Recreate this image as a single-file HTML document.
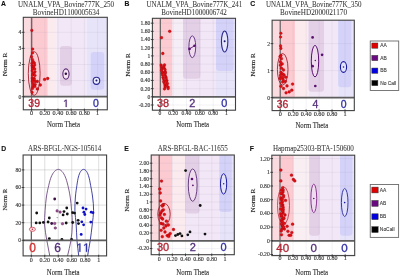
<!DOCTYPE html><html><head><meta charset="utf-8"><style>html,body{margin:0;padding:0;background:#fff;width:400px;height:277px;overflow:hidden}svg{display:block;filter:blur(0.3px)}</style></head><body>
<svg width="400" height="277" viewBox="0 0 400 277">
<rect width="400" height="277" fill="#fff"/>
<clipPath id="cA"><rect x="23.3" y="17.3" width="84.0" height="92.5"/></clipPath>
<g clip-path="url(#cA)">
<rect x="23.30" y="17.30" width="84.00" height="92.50" fill="#ffffff" />
<rect x="23.30" y="17.30" width="8.70" height="79.40" fill="#fadbe0" />
<rect x="32.00" y="17.30" width="15.80" height="79.40" fill="#fccbd1" />
<rect x="47.80" y="17.30" width="8.60" height="79.40" fill="#fbebef" />
<rect x="56.40" y="17.30" width="30.10" height="79.40" fill="#f2e7f6" />
<rect x="86.50" y="17.30" width="20.80" height="79.40" fill="#e7e4f9" />
<rect x="60.00" y="46.00" width="11.90" height="39.80" rx="3" fill="#e3d0e7"/>
<rect x="90.70" y="51.90" width="13.50" height="37.90" rx="3" fill="#d4d2f8"/>
<line x1="44.80" y1="17.30" x2="44.80" y2="109.80" stroke="rgba(150,140,170,0.16)" stroke-width="0.7" />
<line x1="58.00" y1="17.30" x2="58.00" y2="109.80" stroke="rgba(150,140,170,0.16)" stroke-width="0.7" />
<line x1="71.20" y1="17.30" x2="71.20" y2="109.80" stroke="rgba(150,140,170,0.16)" stroke-width="0.7" />
<line x1="84.40" y1="17.30" x2="84.40" y2="109.80" stroke="rgba(150,140,170,0.16)" stroke-width="0.7" />
<line x1="97.60" y1="17.30" x2="97.60" y2="109.80" stroke="rgba(150,140,170,0.16)" stroke-width="0.7" />
<line x1="23.30" y1="96.70" x2="107.30" y2="96.70" stroke="rgba(150,140,170,0.16)" stroke-width="0.7" />
<line x1="23.30" y1="80.60" x2="107.30" y2="80.60" stroke="rgba(150,140,170,0.16)" stroke-width="0.7" />
<line x1="23.30" y1="64.50" x2="107.30" y2="64.50" stroke="rgba(150,140,170,0.16)" stroke-width="0.7" />
<line x1="23.30" y1="48.40" x2="107.30" y2="48.40" stroke="rgba(150,140,170,0.16)" stroke-width="0.7" />
<line x1="23.30" y1="32.30" x2="107.30" y2="32.30" stroke="rgba(150,140,170,0.16)" stroke-width="0.7" />
<line x1="31.60" y1="17.30" x2="31.60" y2="96.70" stroke="#7a6060" stroke-width="1.5" />
<line x1="31.60" y1="96.70" x2="31.60" y2="109.80" stroke="rgba(70,60,60,0.75)" stroke-width="1" />
<ellipse cx="34.20" cy="73.50" rx="5.9" ry="21.8" fill="none" stroke="#a02030" stroke-width="0.9" transform="rotate(0 34.20 73.50)"/>
<ellipse cx="65.95" cy="74.10" rx="3.1" ry="5.2" fill="#f4e4f4" stroke="#5a2a70" stroke-width="1.1" transform="rotate(0 65.95 74.10)"/>
<ellipse cx="96.45" cy="80.80" rx="3.3" ry="3.6" fill="#ececfc" stroke="#2a2a90" stroke-width="1.1" transform="rotate(0 96.45 80.80)"/>
<circle cx="31.80" cy="30.40" r="1.3" fill="#e01010" stroke="#a00010" stroke-width="0.35"/>
<circle cx="32.70" cy="49.10" r="1.3" fill="#e01010" stroke="#a00010" stroke-width="0.35"/>
<circle cx="32.50" cy="52.90" r="1.3" fill="#e01010" stroke="#a00010" stroke-width="0.35"/>
<circle cx="31.60" cy="56.70" r="1.3" fill="#e01010" stroke="#a00010" stroke-width="0.35"/>
<circle cx="44.60" cy="79.40" r="1.4" fill="#e01010" stroke="#a00010" stroke-width="0.35"/>
<circle cx="47.70" cy="78.50" r="1.4" fill="#e01010" stroke="#a00010" stroke-width="0.35"/>
<circle cx="37.30" cy="81.50" r="1.4" fill="#e01010" stroke="#a00010" stroke-width="0.35"/>
<circle cx="40.30" cy="85.00" r="1.4" fill="#e01010" stroke="#a00010" stroke-width="0.35"/>
<circle cx="37.30" cy="88.90" r="1.4" fill="#e01010" stroke="#a00010" stroke-width="0.35"/>
<circle cx="32.50" cy="88.50" r="1.3" fill="#e01010" stroke="#a00010" stroke-width="0.35"/>
<circle cx="32.10" cy="92.40" r="1.3" fill="#e01010" stroke="#a00010" stroke-width="0.35"/>
<circle cx="32.40" cy="59.50" r="1.3" fill="#e01010" stroke="#a00010" stroke-width="0.35"/>
<circle cx="33.20" cy="61.50" r="1.3" fill="#e01010" stroke="#a00010" stroke-width="0.35"/>
<circle cx="31.95" cy="63.23" r="1.3" fill="#e01010" stroke="#a00010" stroke-width="0.35"/>
<circle cx="34.41" cy="62.97" r="1.3" fill="#e01010" stroke="#a00010" stroke-width="0.35"/>
<circle cx="32.05" cy="65.45" r="1.3" fill="#e01010" stroke="#a00010" stroke-width="0.35"/>
<circle cx="34.66" cy="65.11" r="1.3" fill="#e01010" stroke="#a00010" stroke-width="0.35"/>
<circle cx="32.44" cy="66.88" r="1.3" fill="#e01010" stroke="#a00010" stroke-width="0.35"/>
<circle cx="33.74" cy="67.05" r="1.3" fill="#e01010" stroke="#a00010" stroke-width="0.35"/>
<circle cx="32.58" cy="68.78" r="1.3" fill="#e01010" stroke="#a00010" stroke-width="0.35"/>
<circle cx="34.73" cy="68.98" r="1.3" fill="#e01010" stroke="#a00010" stroke-width="0.35"/>
<circle cx="32.20" cy="70.85" r="1.3" fill="#e01010" stroke="#a00010" stroke-width="0.35"/>
<circle cx="35.02" cy="71.69" r="1.3" fill="#e01010" stroke="#a00010" stroke-width="0.35"/>
<circle cx="33.01" cy="73.64" r="1.3" fill="#e01010" stroke="#a00010" stroke-width="0.35"/>
<circle cx="33.90" cy="73.29" r="1.3" fill="#e01010" stroke="#a00010" stroke-width="0.35"/>
<circle cx="32.60" cy="75.14" r="1.3" fill="#e01010" stroke="#a00010" stroke-width="0.35"/>
<circle cx="35.04" cy="75.44" r="1.3" fill="#e01010" stroke="#a00010" stroke-width="0.35"/>
<circle cx="32.23" cy="78.08" r="1.3" fill="#e01010" stroke="#a00010" stroke-width="0.35"/>
<circle cx="34.09" cy="78.21" r="1.3" fill="#e01010" stroke="#a00010" stroke-width="0.35"/>
<circle cx="32.63" cy="79.86" r="1.3" fill="#e01010" stroke="#a00010" stroke-width="0.35"/>
<circle cx="34.40" cy="79.78" r="1.3" fill="#e01010" stroke="#a00010" stroke-width="0.35"/>
<circle cx="32.35" cy="81.34" r="1.3" fill="#e01010" stroke="#a00010" stroke-width="0.35"/>
<circle cx="35.07" cy="81.58" r="1.3" fill="#e01010" stroke="#a00010" stroke-width="0.35"/>
<circle cx="33.11" cy="83.65" r="1.3" fill="#e01010" stroke="#a00010" stroke-width="0.35"/>
<circle cx="35.23" cy="84.47" r="1.3" fill="#e01010" stroke="#a00010" stroke-width="0.35"/>
<circle cx="33.12" cy="86.42" r="1.3" fill="#e01010" stroke="#a00010" stroke-width="0.35"/>
<circle cx="34.81" cy="86.38" r="1.3" fill="#e01010" stroke="#a00010" stroke-width="0.35"/>
<circle cx="65.85" cy="73.80" r="1.25" fill="#301040"/>
<circle cx="96.45" cy="80.50" r="1.0" fill="#1a1a70"/>
<line x1="23.30" y1="96.70" x2="107.30" y2="96.70" stroke="#5e5e5e" stroke-width="1.7" />
</g>
<rect x="23.30" y="17.30" width="84.00" height="92.50" fill="none" stroke="#404040" stroke-width="1.1"/>
<line x1="21.80" y1="96.70" x2="24.50" y2="96.70" stroke="#333" stroke-width="0.9" />
<text x="21.20" y="98.60" font-size="5.6" fill="#3a3a3a" text-anchor="end" style="font-family:'Liberation Serif',serif" font-weight="normal" stroke="#3a3a3a" stroke-width="0.15" >0</text>
<line x1="21.80" y1="80.60" x2="24.50" y2="80.60" stroke="#333" stroke-width="0.9" />
<text x="21.20" y="82.50" font-size="5.6" fill="#3a3a3a" text-anchor="end" style="font-family:'Liberation Serif',serif" font-weight="normal" stroke="#3a3a3a" stroke-width="0.15" >1</text>
<line x1="21.80" y1="64.50" x2="24.50" y2="64.50" stroke="#333" stroke-width="0.9" />
<text x="21.20" y="66.40" font-size="5.6" fill="#3a3a3a" text-anchor="end" style="font-family:'Liberation Serif',serif" font-weight="normal" stroke="#3a3a3a" stroke-width="0.15" >2</text>
<line x1="21.80" y1="48.40" x2="24.50" y2="48.40" stroke="#333" stroke-width="0.9" />
<text x="21.20" y="50.30" font-size="5.6" fill="#3a3a3a" text-anchor="end" style="font-family:'Liberation Serif',serif" font-weight="normal" stroke="#3a3a3a" stroke-width="0.15" >3</text>
<line x1="21.80" y1="32.30" x2="24.50" y2="32.30" stroke="#333" stroke-width="0.9" />
<text x="21.20" y="34.20" font-size="5.6" fill="#3a3a3a" text-anchor="end" style="font-family:'Liberation Serif',serif" font-weight="normal" stroke="#3a3a3a" stroke-width="0.15" >4</text>
<line x1="31.60" y1="108.60" x2="31.60" y2="111.30" stroke="#333" stroke-width="0.9" />
<text x="31.60" y="114.80" font-size="6.2" fill="#3a3a3a" text-anchor="middle" style="font-family:'Liberation Serif',serif" font-weight="normal" stroke="#3a3a3a" stroke-width="0.15" >0</text>
<line x1="44.80" y1="108.60" x2="44.80" y2="111.30" stroke="#333" stroke-width="0.9" />
<text x="44.80" y="114.80" font-size="6.2" fill="#3a3a3a" text-anchor="middle" style="font-family:'Liberation Serif',serif" font-weight="normal" stroke="#3a3a3a" stroke-width="0.15" >0.20</text>
<line x1="58.00" y1="108.60" x2="58.00" y2="111.30" stroke="#333" stroke-width="0.9" />
<text x="58.00" y="114.80" font-size="6.2" fill="#3a3a3a" text-anchor="middle" style="font-family:'Liberation Serif',serif" font-weight="normal" stroke="#3a3a3a" stroke-width="0.15" >0.40</text>
<line x1="71.20" y1="108.60" x2="71.20" y2="111.30" stroke="#333" stroke-width="0.9" />
<text x="71.20" y="114.80" font-size="6.2" fill="#3a3a3a" text-anchor="middle" style="font-family:'Liberation Serif',serif" font-weight="normal" stroke="#3a3a3a" stroke-width="0.15" >0.60</text>
<line x1="84.40" y1="108.60" x2="84.40" y2="111.30" stroke="#333" stroke-width="0.9" />
<text x="84.40" y="114.80" font-size="6.2" fill="#3a3a3a" text-anchor="middle" style="font-family:'Liberation Serif',serif" font-weight="normal" stroke="#3a3a3a" stroke-width="0.15" >0.80</text>
<line x1="97.60" y1="108.60" x2="97.60" y2="111.30" stroke="#333" stroke-width="0.9" />
<text x="97.60" y="114.80" font-size="6.2" fill="#3a3a3a" text-anchor="middle" style="font-family:'Liberation Serif',serif" font-weight="normal" stroke="#3a3a3a" stroke-width="0.15" >1</text>
<text x="28.36" y="107.00" font-size="10.5" fill="#b02434" text-anchor="start" style="font-family:'Liberation Sans',sans-serif" font-weight="normal" stroke="#b02434" stroke-width="0.3" >3</text>
<text x="34.20" y="107.00" font-size="10.5" fill="#b02434" text-anchor="start" style="font-family:'Liberation Sans',sans-serif" font-weight="normal" stroke="#b02434" stroke-width="0.3" >9</text>
<path d="M65.72,107.00 L66.65,107.00 L66.65,99.78 L65.80,99.78 L64.09,100.95 L64.09,101.82 L65.72,100.66Z" fill="#55307a" stroke="#55307a" stroke-width="0.3" stroke-linejoin="round"/>
<text x="93.08" y="107.00" font-size="10.5" fill="#3030a6" text-anchor="start" style="font-family:'Liberation Sans',sans-serif" font-weight="normal" stroke="#3030a6" stroke-width="0.3" >0</text>
<text x="66.00" y="6.80" font-size="7.178" fill="#363636" text-anchor="middle" style="font-family:'Liberation Serif',serif" font-weight="normal" stroke="#363636" stroke-width="0.05" textLength="96.00" lengthAdjust="spacingAndGlyphs" >UNALM_VPA_Bovine777K_250</text>
<text x="66.10" y="15.00" font-size="7.178" fill="#363636" text-anchor="middle" style="font-family:'Liberation Serif',serif" font-weight="normal" stroke="#363636" stroke-width="0.05" textLength="66.50" lengthAdjust="spacingAndGlyphs" >BovineHD1100005634</text>
<text x="1.00" y="5.75" font-size="6.8" fill="#111" text-anchor="start" style="font-family:'Liberation Sans',sans-serif" font-weight="bold" stroke="#111" stroke-width="0.1" >A</text>
<text x="63.50" y="126.80" font-size="8.3" fill="#2a2a2a" text-anchor="middle" style="font-family:'Liberation Serif',serif" font-weight="normal" stroke="#2a2a2a" stroke-width="0.12" textLength="32.80" lengthAdjust="spacingAndGlyphs" >Norm Theta</text>
<text x="0" y="0" font-size="7.1" fill="#2a2a2a" stroke="#2a2a2a" stroke-width="0.15" text-anchor="middle" style="font-family:'Liberation Serif',serif" transform="translate(6.50,64.50) rotate(-90)" textLength="23.6" lengthAdjust="spacingAndGlyphs">Norm R</text>
<clipPath id="cB"><rect x="152.4" y="18.3" width="83.1" height="91.9"/></clipPath>
<g clip-path="url(#cB)">
<rect x="152.40" y="18.30" width="83.10" height="91.90" fill="#ffffff" />
<rect x="152.00" y="18.30" width="8.30" height="78.50" fill="#fadbe0" />
<rect x="160.30" y="18.30" width="12.20" height="78.50" fill="#fccbd1" />
<rect x="172.50" y="18.30" width="10.50" height="78.50" fill="#f6eef6" />
<rect x="183.00" y="18.30" width="33.00" height="78.50" fill="#f2e7f6" />
<rect x="216.00" y="18.30" width="19.50" height="78.50" fill="#e7e4f9" />
<rect x="183.00" y="10.00" width="17.40" height="68.70" rx="3" fill="#e3d0e7"/>
<rect x="216.00" y="10.00" width="17.60" height="61.00" rx="3" fill="#d4d2f8"/>
<line x1="173.14" y1="18.30" x2="173.14" y2="110.20" stroke="rgba(150,140,170,0.16)" stroke-width="0.7" />
<line x1="186.48" y1="18.30" x2="186.48" y2="110.20" stroke="rgba(150,140,170,0.16)" stroke-width="0.7" />
<line x1="199.82" y1="18.30" x2="199.82" y2="110.20" stroke="rgba(150,140,170,0.16)" stroke-width="0.7" />
<line x1="213.16" y1="18.30" x2="213.16" y2="110.20" stroke="rgba(150,140,170,0.16)" stroke-width="0.7" />
<line x1="226.50" y1="18.30" x2="226.50" y2="110.20" stroke="rgba(150,140,170,0.16)" stroke-width="0.7" />
<line x1="152.40" y1="104.98" x2="235.50" y2="104.98" stroke="rgba(150,140,170,0.16)" stroke-width="0.7" />
<line x1="152.40" y1="96.80" x2="235.50" y2="96.80" stroke="rgba(150,140,170,0.16)" stroke-width="0.7" />
<line x1="152.40" y1="88.62" x2="235.50" y2="88.62" stroke="rgba(150,140,170,0.16)" stroke-width="0.7" />
<line x1="152.40" y1="80.44" x2="235.50" y2="80.44" stroke="rgba(150,140,170,0.16)" stroke-width="0.7" />
<line x1="152.40" y1="72.26" x2="235.50" y2="72.26" stroke="rgba(150,140,170,0.16)" stroke-width="0.7" />
<line x1="152.40" y1="64.08" x2="235.50" y2="64.08" stroke="rgba(150,140,170,0.16)" stroke-width="0.7" />
<line x1="152.40" y1="55.90" x2="235.50" y2="55.90" stroke="rgba(150,140,170,0.16)" stroke-width="0.7" />
<line x1="152.40" y1="47.72" x2="235.50" y2="47.72" stroke="rgba(150,140,170,0.16)" stroke-width="0.7" />
<line x1="152.40" y1="39.54" x2="235.50" y2="39.54" stroke="rgba(150,140,170,0.16)" stroke-width="0.7" />
<line x1="152.40" y1="31.36" x2="235.50" y2="31.36" stroke="rgba(150,140,170,0.16)" stroke-width="0.7" />
<line x1="152.40" y1="23.18" x2="235.50" y2="23.18" stroke="rgba(150,140,170,0.16)" stroke-width="0.7" />
<line x1="160.30" y1="18.30" x2="160.30" y2="96.80" stroke="#555" stroke-width="1.1" />
<line x1="160.30" y1="96.80" x2="160.30" y2="110.20" stroke="rgba(70,60,60,0.75)" stroke-width="1" />
<ellipse cx="192.30" cy="46.75" rx="3.4" ry="10.9" fill="#efdcef" stroke="#6a3a88" stroke-width="1.0" transform="rotate(0 192.30 46.75)"/>
<ellipse cx="224.65" cy="41.45" rx="3.2" ry="10.5" fill="#e4e4fa" stroke="#2a2a90" stroke-width="1.1" transform="rotate(0 224.65 41.45)"/>
<line x1="189.5" y1="48.9" x2="194.5" y2="45.8" stroke="#5a1070" stroke-width="0.9"/>
<circle cx="169.70" cy="31.30" r="1.4" fill="#e01010" stroke="#a00010" stroke-width="0.35"/>
<circle cx="161.50" cy="37.70" r="1.4" fill="#e01010" stroke="#a00010" stroke-width="0.35"/>
<circle cx="162.80" cy="53.50" r="1.4" fill="#e01010" stroke="#a00010" stroke-width="0.35"/>
<circle cx="189.50" cy="48.90" r="1.3" fill="#5a1070"/>
<circle cx="194.50" cy="45.80" r="1.3" fill="#5a1070"/>
<circle cx="224.60" cy="41.20" r="1.0" fill="#1a1a70"/>
<circle cx="161.14" cy="65.06" r="1.35" fill="#e01010" stroke="#a00010" stroke-width="0.35"/>
<circle cx="164.51" cy="64.97" r="1.35" fill="#e01010" stroke="#a00010" stroke-width="0.35"/>
<circle cx="161.48" cy="66.79" r="1.35" fill="#e01010" stroke="#a00010" stroke-width="0.35"/>
<circle cx="163.89" cy="66.71" r="1.35" fill="#e01010" stroke="#a00010" stroke-width="0.35"/>
<circle cx="161.90" cy="68.69" r="1.35" fill="#e01010" stroke="#a00010" stroke-width="0.35"/>
<circle cx="164.06" cy="68.20" r="1.35" fill="#e01010" stroke="#a00010" stroke-width="0.35"/>
<circle cx="161.52" cy="70.41" r="1.35" fill="#e01010" stroke="#a00010" stroke-width="0.35"/>
<circle cx="165.05" cy="69.64" r="1.35" fill="#e01010" stroke="#a00010" stroke-width="0.35"/>
<circle cx="162.87" cy="72.26" r="1.35" fill="#e01010" stroke="#a00010" stroke-width="0.35"/>
<circle cx="165.27" cy="71.92" r="1.35" fill="#e01010" stroke="#a00010" stroke-width="0.35"/>
<circle cx="162.15" cy="73.02" r="1.35" fill="#e01010" stroke="#a00010" stroke-width="0.35"/>
<circle cx="165.39" cy="73.06" r="1.35" fill="#e01010" stroke="#a00010" stroke-width="0.35"/>
<circle cx="162.46" cy="74.94" r="1.35" fill="#e01010" stroke="#a00010" stroke-width="0.35"/>
<circle cx="165.07" cy="75.16" r="1.35" fill="#e01010" stroke="#a00010" stroke-width="0.35"/>
<circle cx="163.03" cy="77.24" r="1.35" fill="#e01010" stroke="#a00010" stroke-width="0.35"/>
<circle cx="165.93" cy="77.04" r="1.35" fill="#e01010" stroke="#a00010" stroke-width="0.35"/>
<circle cx="163.38" cy="78.76" r="1.35" fill="#e01010" stroke="#a00010" stroke-width="0.35"/>
<circle cx="166.12" cy="78.38" r="1.35" fill="#e01010" stroke="#a00010" stroke-width="0.35"/>
<circle cx="164.25" cy="80.80" r="1.35" fill="#e01010" stroke="#a00010" stroke-width="0.35"/>
<circle cx="166.86" cy="80.51" r="1.35" fill="#e01010" stroke="#a00010" stroke-width="0.35"/>
<circle cx="163.70" cy="81.73" r="1.35" fill="#e01010" stroke="#a00010" stroke-width="0.35"/>
<circle cx="166.47" cy="81.57" r="1.35" fill="#e01010" stroke="#a00010" stroke-width="0.35"/>
<circle cx="164.51" cy="83.60" r="1.35" fill="#e01010" stroke="#a00010" stroke-width="0.35"/>
<circle cx="167.41" cy="83.59" r="1.35" fill="#e01010" stroke="#a00010" stroke-width="0.35"/>
<circle cx="165.01" cy="85.75" r="1.35" fill="#e01010" stroke="#a00010" stroke-width="0.35"/>
<circle cx="166.66" cy="85.11" r="1.35" fill="#e01010" stroke="#a00010" stroke-width="0.35"/>
<circle cx="165.23" cy="87.07" r="1.35" fill="#e01010" stroke="#a00010" stroke-width="0.35"/>
<circle cx="168.11" cy="87.00" r="1.35" fill="#e01010" stroke="#a00010" stroke-width="0.35"/>
<circle cx="164.50" cy="88.93" r="1.35" fill="#e01010" stroke="#a00010" stroke-width="0.35"/>
<circle cx="168.14" cy="88.57" r="1.35" fill="#e01010" stroke="#a00010" stroke-width="0.35"/>
<line x1="152.40" y1="96.80" x2="235.50" y2="96.80" stroke="#5e5e5e" stroke-width="1.7" />
</g>
<rect x="152.40" y="18.30" width="83.10" height="91.90" fill="none" stroke="#404040" stroke-width="1.1"/>
<line x1="150.90" y1="104.98" x2="153.60" y2="104.98" stroke="#333" stroke-width="0.9" />
<text x="150.30" y="106.88" font-size="5.6" fill="#3a3a3a" text-anchor="end" style="font-family:'Liberation Serif',serif" font-weight="normal" stroke="#3a3a3a" stroke-width="0.15" >-0.20</text>
<line x1="150.90" y1="96.80" x2="153.60" y2="96.80" stroke="#333" stroke-width="0.9" />
<text x="150.30" y="98.70" font-size="5.6" fill="#3a3a3a" text-anchor="end" style="font-family:'Liberation Serif',serif" font-weight="normal" stroke="#3a3a3a" stroke-width="0.15" >0</text>
<line x1="150.90" y1="88.62" x2="153.60" y2="88.62" stroke="#333" stroke-width="0.9" />
<text x="150.30" y="90.52" font-size="5.6" fill="#3a3a3a" text-anchor="end" style="font-family:'Liberation Serif',serif" font-weight="normal" stroke="#3a3a3a" stroke-width="0.15" >0.20</text>
<line x1="150.90" y1="80.44" x2="153.60" y2="80.44" stroke="#333" stroke-width="0.9" />
<text x="150.30" y="82.34" font-size="5.6" fill="#3a3a3a" text-anchor="end" style="font-family:'Liberation Serif',serif" font-weight="normal" stroke="#3a3a3a" stroke-width="0.15" >0.40</text>
<line x1="150.90" y1="72.26" x2="153.60" y2="72.26" stroke="#333" stroke-width="0.9" />
<text x="150.30" y="74.16" font-size="5.6" fill="#3a3a3a" text-anchor="end" style="font-family:'Liberation Serif',serif" font-weight="normal" stroke="#3a3a3a" stroke-width="0.15" >0.60</text>
<line x1="150.90" y1="64.08" x2="153.60" y2="64.08" stroke="#333" stroke-width="0.9" />
<text x="150.30" y="65.98" font-size="5.6" fill="#3a3a3a" text-anchor="end" style="font-family:'Liberation Serif',serif" font-weight="normal" stroke="#3a3a3a" stroke-width="0.15" >0.80</text>
<line x1="150.90" y1="55.90" x2="153.60" y2="55.90" stroke="#333" stroke-width="0.9" />
<text x="150.30" y="57.80" font-size="5.6" fill="#3a3a3a" text-anchor="end" style="font-family:'Liberation Serif',serif" font-weight="normal" stroke="#3a3a3a" stroke-width="0.15" >1</text>
<line x1="150.90" y1="47.72" x2="153.60" y2="47.72" stroke="#333" stroke-width="0.9" />
<text x="150.30" y="49.62" font-size="5.6" fill="#3a3a3a" text-anchor="end" style="font-family:'Liberation Serif',serif" font-weight="normal" stroke="#3a3a3a" stroke-width="0.15" >1.20</text>
<line x1="150.90" y1="39.54" x2="153.60" y2="39.54" stroke="#333" stroke-width="0.9" />
<text x="150.30" y="41.44" font-size="5.6" fill="#3a3a3a" text-anchor="end" style="font-family:'Liberation Serif',serif" font-weight="normal" stroke="#3a3a3a" stroke-width="0.15" >1.40</text>
<line x1="150.90" y1="31.36" x2="153.60" y2="31.36" stroke="#333" stroke-width="0.9" />
<text x="150.30" y="33.26" font-size="5.6" fill="#3a3a3a" text-anchor="end" style="font-family:'Liberation Serif',serif" font-weight="normal" stroke="#3a3a3a" stroke-width="0.15" >1.60</text>
<line x1="150.90" y1="23.18" x2="153.60" y2="23.18" stroke="#333" stroke-width="0.9" />
<text x="150.30" y="25.08" font-size="5.6" fill="#3a3a3a" text-anchor="end" style="font-family:'Liberation Serif',serif" font-weight="normal" stroke="#3a3a3a" stroke-width="0.15" >1.80</text>
<line x1="159.80" y1="109.00" x2="159.80" y2="111.70" stroke="#333" stroke-width="0.9" />
<text x="159.80" y="115.00" font-size="5.6" fill="#3a3a3a" text-anchor="middle" style="font-family:'Liberation Serif',serif" font-weight="normal" stroke="#3a3a3a" stroke-width="0.15" >0</text>
<line x1="173.14" y1="109.00" x2="173.14" y2="111.70" stroke="#333" stroke-width="0.9" />
<text x="173.14" y="115.00" font-size="5.6" fill="#3a3a3a" text-anchor="middle" style="font-family:'Liberation Serif',serif" font-weight="normal" stroke="#3a3a3a" stroke-width="0.15" >0.20</text>
<line x1="186.48" y1="109.00" x2="186.48" y2="111.70" stroke="#333" stroke-width="0.9" />
<text x="186.48" y="115.00" font-size="5.6" fill="#3a3a3a" text-anchor="middle" style="font-family:'Liberation Serif',serif" font-weight="normal" stroke="#3a3a3a" stroke-width="0.15" >0.40</text>
<line x1="199.82" y1="109.00" x2="199.82" y2="111.70" stroke="#333" stroke-width="0.9" />
<text x="199.82" y="115.00" font-size="5.6" fill="#3a3a3a" text-anchor="middle" style="font-family:'Liberation Serif',serif" font-weight="normal" stroke="#3a3a3a" stroke-width="0.15" >0.60</text>
<line x1="213.16" y1="109.00" x2="213.16" y2="111.70" stroke="#333" stroke-width="0.9" />
<text x="213.16" y="115.00" font-size="5.6" fill="#3a3a3a" text-anchor="middle" style="font-family:'Liberation Serif',serif" font-weight="normal" stroke="#3a3a3a" stroke-width="0.15" >0.80</text>
<line x1="226.50" y1="109.00" x2="226.50" y2="111.70" stroke="#333" stroke-width="0.9" />
<text x="226.50" y="115.00" font-size="5.6" fill="#3a3a3a" text-anchor="middle" style="font-family:'Liberation Serif',serif" font-weight="normal" stroke="#3a3a3a" stroke-width="0.15" >1</text>
<text x="156.94" y="106.60" font-size="10.9" fill="#b02434" text-anchor="start" style="font-family:'Liberation Sans',sans-serif" font-weight="normal" stroke="#b02434" stroke-width="0.3" >3</text>
<text x="163.00" y="106.60" font-size="10.9" fill="#b02434" text-anchor="start" style="font-family:'Liberation Sans',sans-serif" font-weight="normal" stroke="#b02434" stroke-width="0.3" >8</text>
<text x="189.17" y="106.60" font-size="10.9" fill="#55307a" text-anchor="start" style="font-family:'Liberation Sans',sans-serif" font-weight="normal" stroke="#55307a" stroke-width="0.3" >2</text>
<text x="221.37" y="106.60" font-size="10.9" fill="#3030a6" text-anchor="start" style="font-family:'Liberation Sans',sans-serif" font-weight="normal" stroke="#3030a6" stroke-width="0.3" >0</text>
<text x="194.30" y="6.60" font-size="7.178" fill="#363636" text-anchor="middle" style="font-family:'Liberation Serif',serif" font-weight="normal" stroke="#363636" stroke-width="0.05" textLength="95.80" lengthAdjust="spacingAndGlyphs" >UNALM_VPA_Bovine777K_241</text>
<text x="194.00" y="14.80" font-size="7.178" fill="#363636" text-anchor="middle" style="font-family:'Liberation Serif',serif" font-weight="normal" stroke="#363636" stroke-width="0.05" textLength="65.50" lengthAdjust="spacingAndGlyphs" >BovineHD1000006742</text>
<text x="124.40" y="5.80" font-size="6.8" fill="#111" text-anchor="start" style="font-family:'Liberation Sans',sans-serif" font-weight="bold" stroke="#111" stroke-width="0.1" >B</text>
<text x="192.70" y="127.20" font-size="8.3" fill="#2a2a2a" text-anchor="middle" style="font-family:'Liberation Serif',serif" font-weight="normal" stroke="#2a2a2a" stroke-width="0.12" textLength="32.80" lengthAdjust="spacingAndGlyphs" >Norm Theta</text>
<text x="0" y="0" font-size="7.1" fill="#2a2a2a" stroke="#2a2a2a" stroke-width="0.15" text-anchor="middle" style="font-family:'Liberation Serif',serif" transform="translate(129.60,65.00) rotate(-90)" textLength="23.6" lengthAdjust="spacingAndGlyphs">Norm R</text>
<clipPath id="cC"><rect x="272.1" y="20.2" width="82.19999999999999" height="90.39999999999999"/></clipPath>
<g clip-path="url(#cC)">
<rect x="272.10" y="20.20" width="82.20" height="90.40" fill="#ffffff" />
<rect x="272.10" y="20.20" width="8.20" height="77.40" fill="#fadbe0" />
<rect x="280.30" y="20.20" width="15.00" height="77.40" fill="#fccbd1" />
<rect x="295.30" y="20.20" width="13.20" height="77.40" fill="#fbebef" />
<rect x="308.50" y="20.20" width="29.70" height="77.40" fill="#f2e7f6" />
<rect x="338.20" y="20.20" width="16.10" height="77.40" fill="#e7e4f9" />
<rect x="308.50" y="10.00" width="15.50" height="81.70" rx="3" fill="#e3d0e7"/>
<rect x="338.20" y="10.00" width="13.20" height="77.30" rx="3" fill="#d4d2f8"/>
<line x1="293.16" y1="20.20" x2="293.16" y2="110.60" stroke="rgba(150,140,170,0.16)" stroke-width="0.7" />
<line x1="306.12" y1="20.20" x2="306.12" y2="110.60" stroke="rgba(150,140,170,0.16)" stroke-width="0.7" />
<line x1="319.08" y1="20.20" x2="319.08" y2="110.60" stroke="rgba(150,140,170,0.16)" stroke-width="0.7" />
<line x1="332.04" y1="20.20" x2="332.04" y2="110.60" stroke="rgba(150,140,170,0.16)" stroke-width="0.7" />
<line x1="345.00" y1="20.20" x2="345.00" y2="110.60" stroke="rgba(150,140,170,0.16)" stroke-width="0.7" />
<line x1="272.10" y1="97.60" x2="354.30" y2="97.60" stroke="rgba(150,140,170,0.16)" stroke-width="0.7" />
<line x1="272.10" y1="70.60" x2="354.30" y2="70.60" stroke="rgba(150,140,170,0.16)" stroke-width="0.7" />
<line x1="272.10" y1="43.60" x2="354.30" y2="43.60" stroke="rgba(150,140,170,0.16)" stroke-width="0.7" />
<line x1="280.20" y1="20.20" x2="280.20" y2="97.60" stroke="#555" stroke-width="1.1" />
<line x1="280.20" y1="97.60" x2="280.20" y2="110.60" stroke="rgba(70,60,60,0.75)" stroke-width="1" />
<ellipse cx="282.70" cy="69.30" rx="5.3" ry="15.8" fill="none" stroke="#a02030" stroke-width="0.9" transform="rotate(0 282.70 69.30)"/>
<ellipse cx="315.00" cy="61.15" rx="3.7" ry="15.8" fill="#efdcef" stroke="#5a1070" stroke-width="1.0" transform="rotate(0 315.00 61.15)"/>
<ellipse cx="343.50" cy="67.00" rx="3.1" ry="5.4" fill="#e2e2fa" stroke="#1a1aa0" stroke-width="1.1" transform="rotate(0 343.50 67.00)"/>
<circle cx="280.90" cy="33.20" r="1.3" fill="#e01010" stroke="#a00010" stroke-width="0.35"/>
<circle cx="280.60" cy="37.00" r="1.3" fill="#e01010" stroke="#a00010" stroke-width="0.35"/>
<circle cx="280.60" cy="45.90" r="1.3" fill="#e01010" stroke="#a00010" stroke-width="0.35"/>
<circle cx="280.90" cy="48.40" r="1.3" fill="#e01010" stroke="#a00010" stroke-width="0.35"/>
<circle cx="281.00" cy="55.40" r="1.3" fill="#e01010" stroke="#a00010" stroke-width="0.35"/>
<circle cx="312.60" cy="37.40" r="1.35" fill="#5a1070"/>
<circle cx="322.10" cy="54.80" r="1.35" fill="#5a1070"/>
<circle cx="312.60" cy="66.20" r="1.35" fill="#5a1070"/>
<circle cx="315.30" cy="86.00" r="1.35" fill="#5a1070"/>
<circle cx="315.30" cy="60.40" r="0.75" fill="#5a1070"/>
<circle cx="343.50" cy="67.00" r="0.8" fill="#1a1aa0"/>
<circle cx="280.10" cy="56.50" r="1.4" fill="#e01010" stroke="#a00010" stroke-width="0.35"/>
<circle cx="281.40" cy="58.70" r="1.4" fill="#e01010" stroke="#a00010" stroke-width="0.35"/>
<circle cx="280.50" cy="62.00" r="1.4" fill="#e01010" stroke="#a00010" stroke-width="0.35"/>
<circle cx="282.20" cy="63.90" r="1.4" fill="#e01010" stroke="#a00010" stroke-width="0.35"/>
<circle cx="280.50" cy="65.20" r="1.4" fill="#e01010" stroke="#a00010" stroke-width="0.35"/>
<circle cx="281.40" cy="68.20" r="1.4" fill="#e01010" stroke="#a00010" stroke-width="0.35"/>
<circle cx="283.50" cy="70.00" r="1.4" fill="#e01010" stroke="#a00010" stroke-width="0.35"/>
<circle cx="281.00" cy="72.50" r="1.4" fill="#e01010" stroke="#a00010" stroke-width="0.35"/>
<circle cx="282.50" cy="74.00" r="1.4" fill="#e01010" stroke="#a00010" stroke-width="0.35"/>
<circle cx="280.50" cy="75.50" r="1.4" fill="#e01010" stroke="#a00010" stroke-width="0.35"/>
<circle cx="284.00" cy="75.00" r="1.4" fill="#e01010" stroke="#a00010" stroke-width="0.35"/>
<circle cx="282.50" cy="77.50" r="1.4" fill="#e01010" stroke="#a00010" stroke-width="0.35"/>
<circle cx="280.20" cy="78.50" r="1.4" fill="#e01010" stroke="#a00010" stroke-width="0.35"/>
<circle cx="285.70" cy="77.20" r="1.4" fill="#e01010" stroke="#a00010" stroke-width="0.35"/>
<circle cx="285.30" cy="81.50" r="1.4" fill="#e01010" stroke="#a00010" stroke-width="0.35"/>
<circle cx="282.70" cy="82.00" r="1.4" fill="#e01010" stroke="#a00010" stroke-width="0.35"/>
<circle cx="287.00" cy="85.90" r="1.4" fill="#e01010" stroke="#a00010" stroke-width="0.35"/>
<circle cx="292.60" cy="84.10" r="1.4" fill="#e01010" stroke="#a00010" stroke-width="0.35"/>
<circle cx="283.50" cy="88.50" r="1.4" fill="#e01010" stroke="#a00010" stroke-width="0.35"/>
<circle cx="291.80" cy="90.20" r="1.4" fill="#e01010" stroke="#a00010" stroke-width="0.35"/>
<circle cx="289.20" cy="91.90" r="1.4" fill="#e01010" stroke="#a00010" stroke-width="0.35"/>
<circle cx="286.10" cy="92.80" r="1.4" fill="#e01010" stroke="#a00010" stroke-width="0.35"/>
<circle cx="280.90" cy="86.30" r="1.4" fill="#e01010" stroke="#a00010" stroke-width="0.35"/>
<circle cx="283.00" cy="79.50" r="1.4" fill="#e01010" stroke="#a00010" stroke-width="0.35"/>
<line x1="272.10" y1="97.60" x2="354.30" y2="97.60" stroke="#5e5e5e" stroke-width="1.7" />
</g>
<rect x="272.10" y="20.20" width="82.20" height="90.40" fill="none" stroke="#404040" stroke-width="1.1"/>
<line x1="270.60" y1="97.60" x2="273.30" y2="97.60" stroke="#333" stroke-width="0.9" />
<text x="270.00" y="99.50" font-size="5.6" fill="#3a3a3a" text-anchor="end" style="font-family:'Liberation Serif',serif" font-weight="normal" stroke="#3a3a3a" stroke-width="0.15" >0</text>
<line x1="270.60" y1="70.60" x2="273.30" y2="70.60" stroke="#333" stroke-width="0.9" />
<text x="270.00" y="72.50" font-size="5.6" fill="#3a3a3a" text-anchor="end" style="font-family:'Liberation Serif',serif" font-weight="normal" stroke="#3a3a3a" stroke-width="0.15" >1</text>
<line x1="270.60" y1="43.60" x2="273.30" y2="43.60" stroke="#333" stroke-width="0.9" />
<text x="270.00" y="45.50" font-size="5.6" fill="#3a3a3a" text-anchor="end" style="font-family:'Liberation Serif',serif" font-weight="normal" stroke="#3a3a3a" stroke-width="0.15" >2</text>
<line x1="280.20" y1="109.40" x2="280.20" y2="112.10" stroke="#333" stroke-width="0.9" />
<text x="280.20" y="115.80" font-size="6.2" fill="#3a3a3a" text-anchor="middle" style="font-family:'Liberation Serif',serif" font-weight="normal" stroke="#3a3a3a" stroke-width="0.15" >0</text>
<line x1="293.16" y1="109.40" x2="293.16" y2="112.10" stroke="#333" stroke-width="0.9" />
<text x="293.16" y="115.80" font-size="6.2" fill="#3a3a3a" text-anchor="middle" style="font-family:'Liberation Serif',serif" font-weight="normal" stroke="#3a3a3a" stroke-width="0.15" >0.20</text>
<line x1="306.12" y1="109.40" x2="306.12" y2="112.10" stroke="#333" stroke-width="0.9" />
<text x="306.12" y="115.80" font-size="6.2" fill="#3a3a3a" text-anchor="middle" style="font-family:'Liberation Serif',serif" font-weight="normal" stroke="#3a3a3a" stroke-width="0.15" >0.40</text>
<line x1="319.08" y1="109.40" x2="319.08" y2="112.10" stroke="#333" stroke-width="0.9" />
<text x="319.08" y="115.80" font-size="6.2" fill="#3a3a3a" text-anchor="middle" style="font-family:'Liberation Serif',serif" font-weight="normal" stroke="#3a3a3a" stroke-width="0.15" >0.60</text>
<line x1="332.04" y1="109.40" x2="332.04" y2="112.10" stroke="#333" stroke-width="0.9" />
<text x="332.04" y="115.80" font-size="6.2" fill="#3a3a3a" text-anchor="middle" style="font-family:'Liberation Serif',serif" font-weight="normal" stroke="#3a3a3a" stroke-width="0.15" >0.80</text>
<line x1="345.00" y1="109.40" x2="345.00" y2="112.10" stroke="#333" stroke-width="0.9" />
<text x="345.00" y="115.80" font-size="6.2" fill="#3a3a3a" text-anchor="middle" style="font-family:'Liberation Serif',serif" font-weight="normal" stroke="#3a3a3a" stroke-width="0.15" >1</text>
<text x="276.76" y="107.60" font-size="10.5" fill="#b02434" text-anchor="start" style="font-family:'Liberation Sans',sans-serif" font-weight="normal" stroke="#b02434" stroke-width="0.3" >3</text>
<text x="282.60" y="107.60" font-size="10.5" fill="#b02434" text-anchor="start" style="font-family:'Liberation Sans',sans-serif" font-weight="normal" stroke="#b02434" stroke-width="0.3" >6</text>
<text x="312.58" y="107.60" font-size="10.5" fill="#55307a" text-anchor="start" style="font-family:'Liberation Sans',sans-serif" font-weight="normal" stroke="#55307a" stroke-width="0.3" >4</text>
<text x="340.78" y="107.60" font-size="10.5" fill="#3030a6" text-anchor="start" style="font-family:'Liberation Sans',sans-serif" font-weight="normal" stroke="#3030a6" stroke-width="0.3" >0</text>
<text x="313.80" y="6.80" font-size="7.178" fill="#363636" text-anchor="middle" style="font-family:'Liberation Serif',serif" font-weight="normal" stroke="#363636" stroke-width="0.05" textLength="95.50" lengthAdjust="spacingAndGlyphs" >UNALM_VPA_Bovine777K_350</text>
<text x="313.50" y="15.00" font-size="7.178" fill="#363636" text-anchor="middle" style="font-family:'Liberation Serif',serif" font-weight="normal" stroke="#363636" stroke-width="0.05" textLength="67.00" lengthAdjust="spacingAndGlyphs" >BovineHD2000021170</text>
<text x="250.20" y="6.00" font-size="6.8" fill="#111" text-anchor="start" style="font-family:'Liberation Sans',sans-serif" font-weight="bold" stroke="#111" stroke-width="0.1" >C</text>
<text x="311.80" y="127.60" font-size="8.3" fill="#2a2a2a" text-anchor="middle" style="font-family:'Liberation Serif',serif" font-weight="normal" stroke="#2a2a2a" stroke-width="0.12" textLength="32.80" lengthAdjust="spacingAndGlyphs" >Norm Theta</text>
<text x="0" y="0" font-size="7.1" fill="#2a2a2a" stroke="#2a2a2a" stroke-width="0.15" text-anchor="middle" style="font-family:'Liberation Serif',serif" transform="translate(255.00,65.00) rotate(-90)" textLength="23.6" lengthAdjust="spacingAndGlyphs">Norm R</text>
<clipPath id="cD"><rect x="23.1" y="155" width="83.5" height="100.9"/></clipPath>
<g clip-path="url(#cD)">
<rect x="23.10" y="155.00" width="83.50" height="100.90" fill="#ffffff" />
<line x1="44.78" y1="155.00" x2="44.78" y2="255.90" stroke="rgba(170,170,170,0.55)" stroke-width="0.7" />
<line x1="58.26" y1="155.00" x2="58.26" y2="255.90" stroke="rgba(170,170,170,0.55)" stroke-width="0.7" />
<line x1="71.74" y1="155.00" x2="71.74" y2="255.90" stroke="rgba(170,170,170,0.55)" stroke-width="0.7" />
<line x1="85.22" y1="155.00" x2="85.22" y2="255.90" stroke="rgba(170,170,170,0.55)" stroke-width="0.7" />
<line x1="98.70" y1="155.00" x2="98.70" y2="255.90" stroke="rgba(170,170,170,0.55)" stroke-width="0.7" />
<line x1="23.10" y1="240.30" x2="106.60" y2="240.30" stroke="rgba(170,170,170,0.55)" stroke-width="0.7" />
<line x1="23.10" y1="222.70" x2="106.60" y2="222.70" stroke="rgba(170,170,170,0.55)" stroke-width="0.7" />
<line x1="23.10" y1="205.10" x2="106.60" y2="205.10" stroke="rgba(170,170,170,0.55)" stroke-width="0.7" />
<line x1="23.10" y1="187.50" x2="106.60" y2="187.50" stroke="rgba(170,170,170,0.55)" stroke-width="0.7" />
<line x1="23.10" y1="169.90" x2="106.60" y2="169.90" stroke="rgba(170,170,170,0.55)" stroke-width="0.7" />
<line x1="31.30" y1="155.00" x2="31.30" y2="240.30" stroke="#444" stroke-width="1.1" />
<line x1="31.30" y1="240.30" x2="31.30" y2="255.90" stroke="rgba(80,80,80,0.5)" stroke-width="1" />
<path d="M52.50,272.00 C51.15,267.25 50.83,261.70 49.90,256.50 C48.97,251.30 47.78,246.05 46.90,240.80 C46.02,235.55 44.90,230.05 44.60,225.00 C44.30,219.95 44.80,215.17 45.10,210.50 C45.40,205.83 45.79,201.20 46.40,197.00 C47.01,192.80 47.96,188.63 48.75,185.30 C49.54,181.97 50.21,179.30 51.15,177.00 C52.09,174.70 53.22,172.78 54.40,171.50 C55.58,170.22 56.97,169.35 58.25,169.35 C59.53,169.35 60.92,170.22 62.10,171.50 C63.28,172.78 64.39,174.70 65.35,177.00 C66.31,179.30 67.04,181.97 67.85,185.30 C68.66,188.63 69.58,192.80 70.20,197.00 C70.83,201.20 71.25,205.83 71.60,210.50 C71.95,215.17 72.42,219.95 72.30,225.00 C72.18,230.05 71.72,235.55 70.90,240.80 C70.08,246.05 68.47,251.30 67.40,256.50 C66.33,261.70 66.07,267.25 64.50,272.00 C62.93,276.75 60.00,285.00 58.00,285.00 C56.00,285.00 53.85,276.75 52.50,272.00Z" fill="none" stroke="#765488" stroke-width="0.95"/>
<path d="M80.00,272.00 C79.30,267.25 79.30,261.70 78.80,256.50 C78.30,251.30 77.43,246.05 77.00,240.80 C76.57,235.55 76.55,230.05 76.20,225.00 C75.85,219.95 75.03,215.17 74.90,210.50 C74.77,205.83 75.07,201.20 75.40,197.00 C75.73,192.80 76.40,188.63 76.90,185.30 C77.40,181.97 77.78,179.30 78.40,177.00 C79.02,174.70 79.73,172.78 80.60,171.50 C81.47,170.22 82.60,169.35 83.60,169.35 C84.60,169.35 85.72,170.22 86.60,171.50 C87.48,172.78 88.23,174.70 88.90,177.00 C89.57,179.30 89.98,181.97 90.60,185.30 C91.22,188.63 92.10,192.80 92.60,197.00 C93.10,201.20 93.67,205.83 93.60,210.50 C93.53,215.17 92.77,219.95 92.20,225.00 C91.63,230.05 90.98,235.55 90.20,240.80 C89.42,246.05 88.20,251.30 87.50,256.50 C86.80,261.70 86.75,267.25 86.00,272.00 C85.25,276.75 84.00,285.00 83.00,285.00 C82.00,285.00 80.70,276.75 80.00,272.00Z" fill="none" stroke="#3a3aa0" stroke-width="0.95"/>
<ellipse cx="32.4" cy="229.3" rx="3" ry="2.05" fill="#fbe4e6" stroke="#d85a66" stroke-width="0.95"/>
<circle cx="32.4" cy="229.3" r="0.75" fill="#c02040"/>
<circle cx="36.70" cy="213.00" r="1.4" fill="#111"/>
<circle cx="36.20" cy="222.90" r="1.4" fill="#111"/>
<circle cx="39.80" cy="222.90" r="1.4" fill="#111"/>
<circle cx="43.40" cy="222.40" r="1.4" fill="#111"/>
<circle cx="48.10" cy="222.00" r="1.4" fill="#111"/>
<circle cx="49.30" cy="218.00" r="1.4" fill="#111"/>
<circle cx="66.75" cy="208.00" r="1.4" fill="#111"/>
<circle cx="64.00" cy="211.60" r="1.4" fill="#111"/>
<circle cx="63.10" cy="214.90" r="1.4" fill="#111"/>
<circle cx="67.30" cy="214.00" r="1.4" fill="#111"/>
<circle cx="66.20" cy="223.00" r="1.4" fill="#111"/>
<circle cx="72.70" cy="212.70" r="1.4" fill="#111"/>
<circle cx="74.50" cy="213.10" r="1.4" fill="#111"/>
<circle cx="77.20" cy="203.10" r="1.4" fill="#111"/>
<circle cx="72.70" cy="222.50" r="1.4" fill="#111"/>
<circle cx="78.10" cy="220.30" r="1.4" fill="#111"/>
<circle cx="78.50" cy="223.60" r="1.4" fill="#111"/>
<circle cx="49.30" cy="238.60" r="1.4" fill="#111"/>
<circle cx="61.90" cy="239.30" r="1.4" fill="#111"/>
<circle cx="71.60" cy="239.30" r="1.4" fill="#111"/>
<circle cx="51.70" cy="223.50" r="1.4" fill="#3a1040"/>
<circle cx="54.70" cy="199.00" r="1.4" fill="#3a1040"/>
<circle cx="54.70" cy="223.50" r="1.3" fill="#a05098" stroke="#402040" stroke-width="0.35"/>
<circle cx="55.30" cy="228.00" r="1.3" fill="#a05098" stroke="#402040" stroke-width="0.35"/>
<circle cx="57.10" cy="210.90" r="1.3" fill="#a05098" stroke="#402040" stroke-width="0.35"/>
<circle cx="60.10" cy="212.10" r="1.3" fill="#a05098" stroke="#402040" stroke-width="0.35"/>
<circle cx="62.50" cy="223.80" r="1.3" fill="#a05098" stroke="#402040" stroke-width="0.35"/>
<circle cx="83.00" cy="208.00" r="1.4" fill="#1010c8"/>
<circle cx="86.10" cy="209.10" r="1.4" fill="#1010c8"/>
<circle cx="83.90" cy="212.20" r="1.4" fill="#1010c8"/>
<circle cx="84.80" cy="214.50" r="1.4" fill="#1010c8"/>
<circle cx="91.20" cy="212.20" r="1.4" fill="#1010c8"/>
<circle cx="93.00" cy="212.70" r="1.4" fill="#1010c8"/>
<circle cx="81.80" cy="221.80" r="1.4" fill="#1010c8"/>
<circle cx="83.60" cy="224.80" r="1.4" fill="#1010c8"/>
<circle cx="90.80" cy="222.10" r="1.4" fill="#1010c8"/>
<circle cx="81.20" cy="234.40" r="1.4" fill="#1010c8"/>
<circle cx="57.20" cy="217.60" r="0.7" fill="#6a9a9a"/>
<line x1="23.10" y1="240.30" x2="106.60" y2="240.30" stroke="#5e5e5e" stroke-width="1.7" />
</g>
<rect x="23.10" y="155.00" width="83.50" height="100.90" fill="none" stroke="#404040" stroke-width="1.1"/>
<line x1="21.60" y1="240.30" x2="24.30" y2="240.30" stroke="#333" stroke-width="0.9" />
<text x="21.00" y="242.20" font-size="5.6" fill="#3a3a3a" text-anchor="end" style="font-family:'Liberation Serif',serif" font-weight="normal" stroke="#3a3a3a" stroke-width="0.15" >0</text>
<line x1="21.60" y1="222.70" x2="24.30" y2="222.70" stroke="#333" stroke-width="0.9" />
<text x="21.00" y="224.60" font-size="5.6" fill="#3a3a3a" text-anchor="end" style="font-family:'Liberation Serif',serif" font-weight="normal" stroke="#3a3a3a" stroke-width="0.15" >20</text>
<line x1="21.60" y1="205.10" x2="24.30" y2="205.10" stroke="#333" stroke-width="0.9" />
<text x="21.00" y="207.00" font-size="5.6" fill="#3a3a3a" text-anchor="end" style="font-family:'Liberation Serif',serif" font-weight="normal" stroke="#3a3a3a" stroke-width="0.15" >40</text>
<line x1="21.60" y1="187.50" x2="24.30" y2="187.50" stroke="#333" stroke-width="0.9" />
<text x="21.00" y="189.40" font-size="5.6" fill="#3a3a3a" text-anchor="end" style="font-family:'Liberation Serif',serif" font-weight="normal" stroke="#3a3a3a" stroke-width="0.15" >60</text>
<line x1="21.60" y1="169.90" x2="24.30" y2="169.90" stroke="#333" stroke-width="0.9" />
<text x="21.00" y="171.80" font-size="5.6" fill="#3a3a3a" text-anchor="end" style="font-family:'Liberation Serif',serif" font-weight="normal" stroke="#3a3a3a" stroke-width="0.15" >80</text>
<line x1="31.30" y1="254.70" x2="31.30" y2="257.40" stroke="#333" stroke-width="0.9" />
<text x="31.30" y="261.50" font-size="6.0" fill="#3a3a3a" text-anchor="middle" style="font-family:'Liberation Serif',serif" font-weight="normal" stroke="#3a3a3a" stroke-width="0.15" >0</text>
<line x1="44.78" y1="254.70" x2="44.78" y2="257.40" stroke="#333" stroke-width="0.9" />
<text x="44.78" y="261.50" font-size="6.0" fill="#3a3a3a" text-anchor="middle" style="font-family:'Liberation Serif',serif" font-weight="normal" stroke="#3a3a3a" stroke-width="0.15" >0.20</text>
<line x1="58.26" y1="254.70" x2="58.26" y2="257.40" stroke="#333" stroke-width="0.9" />
<text x="58.26" y="261.50" font-size="6.0" fill="#3a3a3a" text-anchor="middle" style="font-family:'Liberation Serif',serif" font-weight="normal" stroke="#3a3a3a" stroke-width="0.15" >0.40</text>
<line x1="71.74" y1="254.70" x2="71.74" y2="257.40" stroke="#333" stroke-width="0.9" />
<text x="71.74" y="261.50" font-size="6.0" fill="#3a3a3a" text-anchor="middle" style="font-family:'Liberation Serif',serif" font-weight="normal" stroke="#3a3a3a" stroke-width="0.15" >0.60</text>
<line x1="85.22" y1="254.70" x2="85.22" y2="257.40" stroke="#333" stroke-width="0.9" />
<text x="85.22" y="261.50" font-size="6.0" fill="#3a3a3a" text-anchor="middle" style="font-family:'Liberation Serif',serif" font-weight="normal" stroke="#3a3a3a" stroke-width="0.15" >0.80</text>
<line x1="98.70" y1="254.70" x2="98.70" y2="257.40" stroke="#333" stroke-width="0.9" />
<text x="98.70" y="261.50" font-size="6.0" fill="#3a3a3a" text-anchor="middle" style="font-family:'Liberation Serif',serif" font-weight="normal" stroke="#3a3a3a" stroke-width="0.15" >1</text>
<text x="29.16" y="251.80" font-size="12" fill="#d03030" text-anchor="start" style="font-family:'Liberation Sans',sans-serif" font-weight="normal" stroke="#d03030" stroke-width="0.3" >0</text>
<text x="54.36" y="251.80" font-size="12" fill="#55307a" text-anchor="start" style="font-family:'Liberation Sans',sans-serif" font-weight="normal" stroke="#55307a" stroke-width="0.3" >6</text>
<path d="M79.34,251.80 L80.40,251.80 L80.40,243.54 L79.43,243.54 L77.48,244.89 L77.48,245.88 L79.34,244.55Z" fill="#3030a6" stroke="#3030a6" stroke-width="0.3" stroke-linejoin="round"/>
<path d="M86.02,251.80 L87.08,251.80 L87.08,243.54 L86.11,243.54 L84.15,244.89 L84.15,245.88 L86.02,244.55Z" fill="#3030a6" stroke="#3030a6" stroke-width="0.3" stroke-linejoin="round"/>
<text x="64.60" y="150.80" font-size="7.2749999999999995" fill="#363636" text-anchor="middle" style="font-family:'Liberation Serif',serif" font-weight="normal" stroke="#363636" stroke-width="0.05" textLength="73.40" lengthAdjust="spacingAndGlyphs" >ARS-BFGL-NGS-105614</text>
<text x="1.20" y="150.80" font-size="6.8" fill="#111" text-anchor="start" style="font-family:'Liberation Sans',sans-serif" font-weight="bold" stroke="#111" stroke-width="0.1" >D</text>
<text x="63.20" y="274.80" font-size="8.3" fill="#2a2a2a" text-anchor="middle" style="font-family:'Liberation Serif',serif" font-weight="normal" stroke="#2a2a2a" stroke-width="0.12" textLength="32.80" lengthAdjust="spacingAndGlyphs" >Norm Theta</text>
<text x="0" y="0" font-size="7.1" fill="#2a2a2a" stroke="#2a2a2a" stroke-width="0.15" text-anchor="middle" style="font-family:'Liberation Serif',serif" transform="translate(6.50,199.70) rotate(-90)" textLength="21.8" lengthAdjust="spacingAndGlyphs">Norm R</text>
<clipPath id="cE"><rect x="151.2" y="155" width="83.10000000000002" height="99.69999999999999"/></clipPath>
<g clip-path="url(#cE)">
<rect x="151.20" y="155.00" width="83.10" height="99.70" fill="#ffffff" />
<rect x="151.20" y="155.00" width="8.10" height="85.80" fill="#fadbe0" />
<rect x="159.30" y="155.00" width="12.70" height="85.80" fill="#fccbd1" />
<rect x="172.00" y="155.00" width="13.20" height="85.80" fill="#fbebef" />
<rect x="185.20" y="155.00" width="34.10" height="85.80" fill="#f2e7f6" />
<rect x="219.30" y="155.00" width="15.00" height="85.80" fill="#e7e4f9" />
<rect x="185.20" y="10.00" width="14.30" height="203.60" rx="3" fill="#e3d0e7"/>
<rect x="219.30" y="10.00" width="12.50" height="202.10" rx="3" fill="#d4d2f8"/>
<line x1="172.34" y1="155.00" x2="172.34" y2="254.70" stroke="rgba(150,140,170,0.16)" stroke-width="0.7" />
<line x1="185.48" y1="155.00" x2="185.48" y2="254.70" stroke="rgba(150,140,170,0.16)" stroke-width="0.7" />
<line x1="198.62" y1="155.00" x2="198.62" y2="254.70" stroke="rgba(150,140,170,0.16)" stroke-width="0.7" />
<line x1="211.76" y1="155.00" x2="211.76" y2="254.70" stroke="rgba(150,140,170,0.16)" stroke-width="0.7" />
<line x1="224.90" y1="155.00" x2="224.90" y2="254.70" stroke="rgba(150,140,170,0.16)" stroke-width="0.7" />
<line x1="151.20" y1="248.56" x2="234.30" y2="248.56" stroke="rgba(150,140,170,0.16)" stroke-width="0.7" />
<line x1="151.20" y1="240.80" x2="234.30" y2="240.80" stroke="rgba(150,140,170,0.16)" stroke-width="0.7" />
<line x1="151.20" y1="233.04" x2="234.30" y2="233.04" stroke="rgba(150,140,170,0.16)" stroke-width="0.7" />
<line x1="151.20" y1="225.28" x2="234.30" y2="225.28" stroke="rgba(150,140,170,0.16)" stroke-width="0.7" />
<line x1="151.20" y1="217.52" x2="234.30" y2="217.52" stroke="rgba(150,140,170,0.16)" stroke-width="0.7" />
<line x1="151.20" y1="209.76" x2="234.30" y2="209.76" stroke="rgba(150,140,170,0.16)" stroke-width="0.7" />
<line x1="151.20" y1="202.00" x2="234.30" y2="202.00" stroke="rgba(150,140,170,0.16)" stroke-width="0.7" />
<line x1="151.20" y1="194.24" x2="234.30" y2="194.24" stroke="rgba(150,140,170,0.16)" stroke-width="0.7" />
<line x1="151.20" y1="186.48" x2="234.30" y2="186.48" stroke="rgba(150,140,170,0.16)" stroke-width="0.7" />
<line x1="151.20" y1="178.72" x2="234.30" y2="178.72" stroke="rgba(150,140,170,0.16)" stroke-width="0.7" />
<line x1="151.20" y1="170.96" x2="234.30" y2="170.96" stroke="rgba(150,140,170,0.16)" stroke-width="0.7" />
<line x1="151.20" y1="163.20" x2="234.30" y2="163.20" stroke="rgba(150,140,170,0.16)" stroke-width="0.7" />
<line x1="159.20" y1="155.00" x2="159.20" y2="240.80" stroke="#6a5050" stroke-width="1.2" />
<line x1="159.20" y1="240.80" x2="159.20" y2="254.70" stroke="rgba(70,60,60,0.75)" stroke-width="1" />
<ellipse cx="164.00" cy="214.20" rx="6.2" ry="10.9" fill="none" stroke="#a02030" stroke-width="0.9" transform="rotate(0 164.00 214.20)"/>
<ellipse cx="192.70" cy="185.10" rx="4.4" ry="16.2" fill="#efdcef" stroke="#684080" stroke-width="1.0" transform="rotate(0 192.70 185.10)"/>
<ellipse cx="223.60" cy="183.90" rx="3.1" ry="10.2" fill="#e2e2fa" stroke="#1a1aa0" stroke-width="1.0" transform="rotate(0 223.60 183.90)"/>
<circle cx="185.60" cy="170.60" r="1.4" fill="#111"/>
<circle cx="200.20" cy="205.50" r="1.4" fill="#111"/>
<circle cx="192.00" cy="179.00" r="1.35" fill="#5a1070"/>
<circle cx="192.90" cy="185.30" r="0.9" fill="#5a1070"/>
<circle cx="223.70" cy="183.80" r="0.7" fill="#1a1aa0"/>
<circle cx="175.50" cy="235.60" r="1.4" fill="#111"/>
<circle cx="177.80" cy="234.50" r="1.4" fill="#111"/>
<circle cx="180.00" cy="233.60" r="1.4" fill="#111"/>
<circle cx="181.90" cy="235.90" r="1.4" fill="#111"/>
<circle cx="187.80" cy="234.80" r="1.4" fill="#111"/>
<circle cx="190.00" cy="231.90" r="1.4" fill="#111"/>
<circle cx="205.00" cy="234.10" r="1.4" fill="#111"/>
<circle cx="161.50" cy="181.10" r="1.4" fill="#e01010" stroke="#a00010" stroke-width="0.35"/>
<circle cx="159.80" cy="189.00" r="1.4" fill="#e01010" stroke="#a00010" stroke-width="0.35"/>
<circle cx="160.20" cy="193.00" r="1.4" fill="#e01010" stroke="#a00010" stroke-width="0.35"/>
<circle cx="160.60" cy="201.00" r="1.4" fill="#e01010" stroke="#a00010" stroke-width="0.35"/>
<circle cx="163.40" cy="205.00" r="1.4" fill="#e01010" stroke="#a00010" stroke-width="0.35"/>
<circle cx="162.30" cy="206.10" r="1.4" fill="#e01010" stroke="#a00010" stroke-width="0.35"/>
<circle cx="163.40" cy="209.80" r="1.4" fill="#e01010" stroke="#a00010" stroke-width="0.35"/>
<circle cx="160.80" cy="212.90" r="1.4" fill="#e01010" stroke="#a00010" stroke-width="0.35"/>
<circle cx="164.40" cy="214.40" r="1.4" fill="#e01010" stroke="#a00010" stroke-width="0.35"/>
<circle cx="161.40" cy="217.90" r="1.4" fill="#e01010" stroke="#a00010" stroke-width="0.35"/>
<circle cx="162.60" cy="219.00" r="1.4" fill="#e01010" stroke="#a00010" stroke-width="0.35"/>
<circle cx="166.40" cy="221.20" r="1.4" fill="#e01010" stroke="#a00010" stroke-width="0.35"/>
<circle cx="161.10" cy="223.50" r="1.4" fill="#e01010" stroke="#a00010" stroke-width="0.35"/>
<circle cx="168.40" cy="225.00" r="1.4" fill="#e01010" stroke="#a00010" stroke-width="0.35"/>
<circle cx="163.80" cy="228.00" r="1.4" fill="#e01010" stroke="#a00010" stroke-width="0.35"/>
<circle cx="173.50" cy="229.50" r="1.4" fill="#e01010" stroke="#a00010" stroke-width="0.35"/>
<circle cx="161.10" cy="230.30" r="1.4" fill="#e01010" stroke="#a00010" stroke-width="0.35"/>
<circle cx="167.20" cy="235.60" r="1.4" fill="#e01010" stroke="#a00010" stroke-width="0.35"/>
<circle cx="168.70" cy="235.20" r="1.4" fill="#e01010" stroke="#a00010" stroke-width="0.35"/>
<circle cx="170.20" cy="233.60" r="1.4" fill="#e01010" stroke="#a00010" stroke-width="0.35"/>
<circle cx="162.30" cy="236.70" r="1.4" fill="#e01010" stroke="#a00010" stroke-width="0.35"/>
<circle cx="168.70" cy="236.40" r="1.4" fill="#e01010" stroke="#a00010" stroke-width="0.35"/>
<circle cx="165.00" cy="232.00" r="1.4" fill="#e01010" stroke="#a00010" stroke-width="0.35"/>
<circle cx="166.00" cy="226.00" r="1.4" fill="#e01010" stroke="#a00010" stroke-width="0.35"/>
<circle cx="163.00" cy="224.00" r="1.4" fill="#e01010" stroke="#a00010" stroke-width="0.35"/>
<circle cx="160.00" cy="215.00" r="1.4" fill="#e01010" stroke="#a00010" stroke-width="0.35"/>
<circle cx="162.00" cy="211.00" r="1.4" fill="#e01010" stroke="#a00010" stroke-width="0.35"/>
<line x1="151.20" y1="240.80" x2="234.30" y2="240.80" stroke="#5e5e5e" stroke-width="1.7" />
</g>
<rect x="151.20" y="155.00" width="83.10" height="99.70" fill="none" stroke="#404040" stroke-width="1.1"/>
<line x1="149.70" y1="248.56" x2="152.40" y2="248.56" stroke="#333" stroke-width="0.9" />
<text x="149.10" y="250.46" font-size="5.6" fill="#3a3a3a" text-anchor="end" style="font-family:'Liberation Serif',serif" font-weight="normal" stroke="#3a3a3a" stroke-width="0.15" >-0.20</text>
<line x1="149.70" y1="240.80" x2="152.40" y2="240.80" stroke="#333" stroke-width="0.9" />
<text x="149.10" y="242.70" font-size="5.6" fill="#3a3a3a" text-anchor="end" style="font-family:'Liberation Serif',serif" font-weight="normal" stroke="#3a3a3a" stroke-width="0.15" >0</text>
<line x1="149.70" y1="233.04" x2="152.40" y2="233.04" stroke="#333" stroke-width="0.9" />
<text x="149.10" y="234.94" font-size="5.6" fill="#3a3a3a" text-anchor="end" style="font-family:'Liberation Serif',serif" font-weight="normal" stroke="#3a3a3a" stroke-width="0.15" >0.20</text>
<line x1="149.70" y1="225.28" x2="152.40" y2="225.28" stroke="#333" stroke-width="0.9" />
<text x="149.10" y="227.18" font-size="5.6" fill="#3a3a3a" text-anchor="end" style="font-family:'Liberation Serif',serif" font-weight="normal" stroke="#3a3a3a" stroke-width="0.15" >0.40</text>
<line x1="149.70" y1="217.52" x2="152.40" y2="217.52" stroke="#333" stroke-width="0.9" />
<text x="149.10" y="219.42" font-size="5.6" fill="#3a3a3a" text-anchor="end" style="font-family:'Liberation Serif',serif" font-weight="normal" stroke="#3a3a3a" stroke-width="0.15" >0.60</text>
<line x1="149.70" y1="209.76" x2="152.40" y2="209.76" stroke="#333" stroke-width="0.9" />
<text x="149.10" y="211.66" font-size="5.6" fill="#3a3a3a" text-anchor="end" style="font-family:'Liberation Serif',serif" font-weight="normal" stroke="#3a3a3a" stroke-width="0.15" >0.80</text>
<line x1="149.70" y1="202.00" x2="152.40" y2="202.00" stroke="#333" stroke-width="0.9" />
<text x="149.10" y="203.90" font-size="5.6" fill="#3a3a3a" text-anchor="end" style="font-family:'Liberation Serif',serif" font-weight="normal" stroke="#3a3a3a" stroke-width="0.15" >1</text>
<line x1="149.70" y1="194.24" x2="152.40" y2="194.24" stroke="#333" stroke-width="0.9" />
<text x="149.10" y="196.14" font-size="5.6" fill="#3a3a3a" text-anchor="end" style="font-family:'Liberation Serif',serif" font-weight="normal" stroke="#3a3a3a" stroke-width="0.15" >1.20</text>
<line x1="149.70" y1="186.48" x2="152.40" y2="186.48" stroke="#333" stroke-width="0.9" />
<text x="149.10" y="188.38" font-size="5.6" fill="#3a3a3a" text-anchor="end" style="font-family:'Liberation Serif',serif" font-weight="normal" stroke="#3a3a3a" stroke-width="0.15" >1.40</text>
<line x1="149.70" y1="178.72" x2="152.40" y2="178.72" stroke="#333" stroke-width="0.9" />
<text x="149.10" y="180.62" font-size="5.6" fill="#3a3a3a" text-anchor="end" style="font-family:'Liberation Serif',serif" font-weight="normal" stroke="#3a3a3a" stroke-width="0.15" >1.60</text>
<line x1="149.70" y1="170.96" x2="152.40" y2="170.96" stroke="#333" stroke-width="0.9" />
<text x="149.10" y="172.86" font-size="5.6" fill="#3a3a3a" text-anchor="end" style="font-family:'Liberation Serif',serif" font-weight="normal" stroke="#3a3a3a" stroke-width="0.15" >1.80</text>
<line x1="149.70" y1="163.20" x2="152.40" y2="163.20" stroke="#333" stroke-width="0.9" />
<text x="149.10" y="165.10" font-size="5.6" fill="#3a3a3a" text-anchor="end" style="font-family:'Liberation Serif',serif" font-weight="normal" stroke="#3a3a3a" stroke-width="0.15" >2.00</text>
<line x1="159.20" y1="253.50" x2="159.20" y2="256.20" stroke="#333" stroke-width="0.9" />
<text x="159.20" y="260.50" font-size="6.0" fill="#3a3a3a" text-anchor="middle" style="font-family:'Liberation Serif',serif" font-weight="normal" stroke="#3a3a3a" stroke-width="0.15" >0</text>
<line x1="172.34" y1="253.50" x2="172.34" y2="256.20" stroke="#333" stroke-width="0.9" />
<text x="172.34" y="260.50" font-size="6.0" fill="#3a3a3a" text-anchor="middle" style="font-family:'Liberation Serif',serif" font-weight="normal" stroke="#3a3a3a" stroke-width="0.15" >0.20</text>
<line x1="185.48" y1="253.50" x2="185.48" y2="256.20" stroke="#333" stroke-width="0.9" />
<text x="185.48" y="260.50" font-size="6.0" fill="#3a3a3a" text-anchor="middle" style="font-family:'Liberation Serif',serif" font-weight="normal" stroke="#3a3a3a" stroke-width="0.15" >0.40</text>
<line x1="198.62" y1="253.50" x2="198.62" y2="256.20" stroke="#333" stroke-width="0.9" />
<text x="198.62" y="260.50" font-size="6.0" fill="#3a3a3a" text-anchor="middle" style="font-family:'Liberation Serif',serif" font-weight="normal" stroke="#3a3a3a" stroke-width="0.15" >0.60</text>
<line x1="211.76" y1="253.50" x2="211.76" y2="256.20" stroke="#333" stroke-width="0.9" />
<text x="211.76" y="260.50" font-size="6.0" fill="#3a3a3a" text-anchor="middle" style="font-family:'Liberation Serif',serif" font-weight="normal" stroke="#3a3a3a" stroke-width="0.15" >0.80</text>
<line x1="224.90" y1="253.50" x2="224.90" y2="256.20" stroke="#333" stroke-width="0.9" />
<text x="224.90" y="260.50" font-size="6.0" fill="#3a3a3a" text-anchor="middle" style="font-family:'Liberation Serif',serif" font-weight="normal" stroke="#3a3a3a" stroke-width="0.15" >1</text>
<text x="156.88" y="251.40" font-size="11" fill="#b02434" text-anchor="start" style="font-family:'Liberation Sans',sans-serif" font-weight="normal" stroke="#b02434" stroke-width="0.3" >3</text>
<text x="163.00" y="251.40" font-size="11" fill="#b02434" text-anchor="start" style="font-family:'Liberation Sans',sans-serif" font-weight="normal" stroke="#b02434" stroke-width="0.3" >0</text>
<text x="189.84" y="251.40" font-size="11" fill="#55307a" text-anchor="start" style="font-family:'Liberation Sans',sans-serif" font-weight="normal" stroke="#55307a" stroke-width="0.3" >2</text>
<text x="220.44" y="251.40" font-size="11" fill="#3030a6" text-anchor="start" style="font-family:'Liberation Sans',sans-serif" font-weight="normal" stroke="#3030a6" stroke-width="0.3" >0</text>
<text x="192.75" y="151.25" font-size="7.2749999999999995" fill="#363636" text-anchor="middle" style="font-family:'Liberation Serif',serif" font-weight="normal" stroke="#363636" stroke-width="0.05" textLength="70.00" lengthAdjust="spacingAndGlyphs" >ARS-BFGL-BAC-11655</text>
<text x="124.30" y="150.80" font-size="6.8" fill="#111" text-anchor="start" style="font-family:'Liberation Sans',sans-serif" font-weight="bold" stroke="#111" stroke-width="0.1" >E</text>
<text x="192.70" y="274.50" font-size="8.3" fill="#2a2a2a" text-anchor="middle" style="font-family:'Liberation Serif',serif" font-weight="normal" stroke="#2a2a2a" stroke-width="0.12" textLength="32.80" lengthAdjust="spacingAndGlyphs" >Norm Theta</text>
<text x="0" y="0" font-size="7.1" fill="#2a2a2a" stroke="#2a2a2a" stroke-width="0.15" text-anchor="middle" style="font-family:'Liberation Serif',serif" transform="translate(129.40,200.30) rotate(-90)" textLength="23" lengthAdjust="spacingAndGlyphs">Norm R</text>
<clipPath id="cF"><rect x="271.8" y="155.2" width="82.89999999999998" height="100.4"/></clipPath>
<g clip-path="url(#cF)">
<rect x="271.80" y="155.20" width="82.90" height="100.40" fill="#ffffff" />
<rect x="271.80" y="155.20" width="8.50" height="85.60" fill="#fadbe0" />
<rect x="280.30" y="155.20" width="13.50" height="85.60" fill="#fccbd1" />
<rect x="293.80" y="155.20" width="15.40" height="85.60" fill="#f9eff3" />
<rect x="309.20" y="155.20" width="30.80" height="85.60" fill="#f2e7f6" />
<rect x="340.00" y="155.20" width="14.70" height="85.60" fill="#e7e4f9" />
<rect x="309.20" y="150.00" width="10.60" height="85.70" rx="3" fill="#e3d0e7"/>
<rect x="340.00" y="150.00" width="12.50" height="85.70" rx="3" fill="#d4d2f8"/>
<line x1="293.04" y1="155.20" x2="293.04" y2="255.60" stroke="rgba(150,140,170,0.16)" stroke-width="0.7" />
<line x1="306.08" y1="155.20" x2="306.08" y2="255.60" stroke="rgba(150,140,170,0.16)" stroke-width="0.7" />
<line x1="319.12" y1="155.20" x2="319.12" y2="255.60" stroke="rgba(150,140,170,0.16)" stroke-width="0.7" />
<line x1="332.16" y1="155.20" x2="332.16" y2="255.60" stroke="rgba(150,140,170,0.16)" stroke-width="0.7" />
<line x1="345.20" y1="155.20" x2="345.20" y2="255.60" stroke="rgba(150,140,170,0.16)" stroke-width="0.7" />
<line x1="271.80" y1="254.50" x2="354.70" y2="254.50" stroke="rgba(150,140,170,0.16)" stroke-width="0.7" />
<line x1="271.80" y1="240.80" x2="354.70" y2="240.80" stroke="rgba(150,140,170,0.16)" stroke-width="0.7" />
<line x1="271.80" y1="227.10" x2="354.70" y2="227.10" stroke="rgba(150,140,170,0.16)" stroke-width="0.7" />
<line x1="271.80" y1="213.40" x2="354.70" y2="213.40" stroke="rgba(150,140,170,0.16)" stroke-width="0.7" />
<line x1="271.80" y1="199.70" x2="354.70" y2="199.70" stroke="rgba(150,140,170,0.16)" stroke-width="0.7" />
<line x1="271.80" y1="186.00" x2="354.70" y2="186.00" stroke="rgba(150,140,170,0.16)" stroke-width="0.7" />
<line x1="271.80" y1="172.30" x2="354.70" y2="172.30" stroke="rgba(150,140,170,0.16)" stroke-width="0.7" />
<line x1="271.80" y1="158.60" x2="354.70" y2="158.60" stroke="rgba(150,140,170,0.16)" stroke-width="0.7" />
<line x1="280.00" y1="155.20" x2="280.00" y2="240.80" stroke="#555" stroke-width="1.1" />
<line x1="280.00" y1="240.80" x2="280.00" y2="255.60" stroke="rgba(70,60,60,0.75)" stroke-width="1" />
<ellipse cx="283.50" cy="205.50" rx="6" ry="18.8" fill="none" stroke="#c04050" stroke-width="0.9" transform="rotate(0 283.50 205.50)"/>
<ellipse cx="313.80" cy="198.40" rx="2.9" ry="14.3" fill="#f0dcf0" stroke="#8a3a90" stroke-width="1.0" transform="rotate(0 313.80 198.40)"/>
<ellipse cx="344.70" cy="202.50" rx="3.3" ry="14.0" fill="#e0e0fa" stroke="#3a3aa0" stroke-width="1.0" transform="rotate(0 344.70 202.50)"/>
<circle cx="280.90" cy="170.10" r="1.4" fill="#e01010" stroke="#a00010" stroke-width="0.35"/>
<circle cx="291.50" cy="175.20" r="1.4" fill="#e01010" stroke="#a00010" stroke-width="0.35"/>
<circle cx="293.40" cy="179.50" r="1.4" fill="#e01010" stroke="#a00010" stroke-width="0.35"/>
<circle cx="294.80" cy="180.90" r="1.4" fill="#e01010" stroke="#a00010" stroke-width="0.35"/>
<circle cx="280.90" cy="180.90" r="1.4" fill="#e01010" stroke="#a00010" stroke-width="0.35"/>
<circle cx="281.40" cy="190.30" r="1.4" fill="#e01010" stroke="#a00010" stroke-width="0.35"/>
<circle cx="282.10" cy="193.90" r="1.4" fill="#e01010" stroke="#a00010" stroke-width="0.35"/>
<circle cx="281.00" cy="198.00" r="1.4" fill="#e01010" stroke="#a00010" stroke-width="0.35"/>
<circle cx="281.20" cy="199.60" r="1.4" fill="#e01010" stroke="#a00010" stroke-width="0.35"/>
<circle cx="285.50" cy="200.40" r="1.4" fill="#e01010" stroke="#a00010" stroke-width="0.35"/>
<circle cx="282.80" cy="205.10" r="1.4" fill="#e01010" stroke="#a00010" stroke-width="0.35"/>
<circle cx="280.70" cy="209.10" r="1.4" fill="#e01010" stroke="#a00010" stroke-width="0.35"/>
<circle cx="283.10" cy="213.10" r="1.4" fill="#e01010" stroke="#a00010" stroke-width="0.35"/>
<circle cx="281.50" cy="216.30" r="1.4" fill="#e01010" stroke="#a00010" stroke-width="0.35"/>
<circle cx="283.90" cy="218.60" r="1.4" fill="#e01010" stroke="#a00010" stroke-width="0.35"/>
<circle cx="281.80" cy="221.00" r="1.4" fill="#e01010" stroke="#a00010" stroke-width="0.35"/>
<circle cx="284.40" cy="223.40" r="1.4" fill="#e01010" stroke="#a00010" stroke-width="0.35"/>
<circle cx="282.30" cy="225.80" r="1.4" fill="#e01010" stroke="#a00010" stroke-width="0.35"/>
<circle cx="287.10" cy="226.30" r="1.4" fill="#e01010" stroke="#a00010" stroke-width="0.35"/>
<circle cx="292.60" cy="224.20" r="1.4" fill="#e01010" stroke="#a00010" stroke-width="0.35"/>
<circle cx="284.40" cy="229.00" r="1.4" fill="#e01010" stroke="#a00010" stroke-width="0.35"/>
<circle cx="287.90" cy="231.30" r="1.4" fill="#e01010" stroke="#a00010" stroke-width="0.35"/>
<circle cx="281.50" cy="234.80" r="1.4" fill="#e01010" stroke="#a00010" stroke-width="0.35"/>
<circle cx="289.10" cy="235.30" r="1.4" fill="#e01010" stroke="#a00010" stroke-width="0.35"/>
<circle cx="290.70" cy="235.30" r="1.4" fill="#e01010" stroke="#a00010" stroke-width="0.35"/>
<circle cx="291.80" cy="232.60" r="1.4" fill="#e01010" stroke="#a00010" stroke-width="0.35"/>
<circle cx="282.00" cy="203.00" r="1.4" fill="#e01010" stroke="#a00010" stroke-width="0.35"/>
<circle cx="283.00" cy="211.00" r="1.4" fill="#e01010" stroke="#a00010" stroke-width="0.35"/>
<circle cx="282.50" cy="219.00" r="1.4" fill="#e01010" stroke="#a00010" stroke-width="0.35"/>
<circle cx="285.00" cy="215.00" r="1.4" fill="#e01010" stroke="#a00010" stroke-width="0.35"/>
<circle cx="283.00" cy="227.00" r="1.4" fill="#e01010" stroke="#a00010" stroke-width="0.35"/>
<circle cx="313.80" cy="198.50" r="0.8" fill="#5a1070"/>
<circle cx="344.70" cy="202.60" r="0.8" fill="#1a1aa0"/>
<circle cx="282.67" cy="187.74" r="1.35" fill="#e01010" stroke="#a00010" stroke-width="0.35"/>
<circle cx="283.19" cy="189.94" r="1.35" fill="#e01010" stroke="#a00010" stroke-width="0.35"/>
<circle cx="283.02" cy="191.92" r="1.35" fill="#e01010" stroke="#a00010" stroke-width="0.35"/>
<circle cx="280.89" cy="193.47" r="1.35" fill="#e01010" stroke="#a00010" stroke-width="0.35"/>
<circle cx="283.63" cy="195.65" r="1.35" fill="#e01010" stroke="#a00010" stroke-width="0.35"/>
<circle cx="283.50" cy="197.11" r="1.35" fill="#e01010" stroke="#a00010" stroke-width="0.35"/>
<circle cx="282.21" cy="199.25" r="1.35" fill="#e01010" stroke="#a00010" stroke-width="0.35"/>
<circle cx="282.43" cy="201.57" r="1.35" fill="#e01010" stroke="#a00010" stroke-width="0.35"/>
<circle cx="280.84" cy="203.22" r="1.35" fill="#e01010" stroke="#a00010" stroke-width="0.35"/>
<circle cx="281.64" cy="205.92" r="1.35" fill="#e01010" stroke="#a00010" stroke-width="0.35"/>
<circle cx="283.10" cy="207.16" r="1.35" fill="#e01010" stroke="#a00010" stroke-width="0.35"/>
<circle cx="283.19" cy="209.14" r="1.35" fill="#e01010" stroke="#a00010" stroke-width="0.35"/>
<circle cx="282.65" cy="211.13" r="1.35" fill="#e01010" stroke="#a00010" stroke-width="0.35"/>
<circle cx="280.81" cy="213.87" r="1.35" fill="#e01010" stroke="#a00010" stroke-width="0.35"/>
<circle cx="281.43" cy="215.22" r="1.35" fill="#e01010" stroke="#a00010" stroke-width="0.35"/>
<circle cx="283.75" cy="217.87" r="1.35" fill="#e01010" stroke="#a00010" stroke-width="0.35"/>
<circle cx="281.67" cy="219.96" r="1.35" fill="#e01010" stroke="#a00010" stroke-width="0.35"/>
<circle cx="282.42" cy="221.68" r="1.35" fill="#e01010" stroke="#a00010" stroke-width="0.35"/>
<circle cx="281.41" cy="223.94" r="1.35" fill="#e01010" stroke="#a00010" stroke-width="0.35"/>
<circle cx="282.87" cy="225.97" r="1.35" fill="#e01010" stroke="#a00010" stroke-width="0.35"/>
<circle cx="283.48" cy="227.30" r="1.35" fill="#e01010" stroke="#a00010" stroke-width="0.35"/>
<circle cx="281.88" cy="229.17" r="1.35" fill="#e01010" stroke="#a00010" stroke-width="0.35"/>
<circle cx="281.24" cy="231.07" r="1.35" fill="#e01010" stroke="#a00010" stroke-width="0.35"/>
<line x1="271.80" y1="240.80" x2="354.70" y2="240.80" stroke="#5e5e5e" stroke-width="1.7" />
</g>
<rect x="271.80" y="155.20" width="82.90" height="100.40" fill="none" stroke="#404040" stroke-width="1.1"/>
<line x1="270.30" y1="254.50" x2="273.00" y2="254.50" stroke="#333" stroke-width="0.9" />
<text x="269.70" y="256.40" font-size="5.6" fill="#3a3a3a" text-anchor="end" style="font-family:'Liberation Serif',serif" font-weight="normal" stroke="#3a3a3a" stroke-width="0.15" >-0.20</text>
<line x1="270.30" y1="240.80" x2="273.00" y2="240.80" stroke="#333" stroke-width="0.9" />
<text x="269.70" y="242.70" font-size="5.6" fill="#3a3a3a" text-anchor="end" style="font-family:'Liberation Serif',serif" font-weight="normal" stroke="#3a3a3a" stroke-width="0.15" >0</text>
<line x1="270.30" y1="227.10" x2="273.00" y2="227.10" stroke="#333" stroke-width="0.9" />
<text x="269.70" y="229.00" font-size="5.6" fill="#3a3a3a" text-anchor="end" style="font-family:'Liberation Serif',serif" font-weight="normal" stroke="#3a3a3a" stroke-width="0.15" >0.20</text>
<line x1="270.30" y1="213.40" x2="273.00" y2="213.40" stroke="#333" stroke-width="0.9" />
<text x="269.70" y="215.30" font-size="5.6" fill="#3a3a3a" text-anchor="end" style="font-family:'Liberation Serif',serif" font-weight="normal" stroke="#3a3a3a" stroke-width="0.15" >0.40</text>
<line x1="270.30" y1="199.70" x2="273.00" y2="199.70" stroke="#333" stroke-width="0.9" />
<text x="269.70" y="201.60" font-size="5.6" fill="#3a3a3a" text-anchor="end" style="font-family:'Liberation Serif',serif" font-weight="normal" stroke="#3a3a3a" stroke-width="0.15" >0.60</text>
<line x1="270.30" y1="186.00" x2="273.00" y2="186.00" stroke="#333" stroke-width="0.9" />
<text x="269.70" y="187.90" font-size="5.6" fill="#3a3a3a" text-anchor="end" style="font-family:'Liberation Serif',serif" font-weight="normal" stroke="#3a3a3a" stroke-width="0.15" >0.80</text>
<line x1="270.30" y1="172.30" x2="273.00" y2="172.30" stroke="#333" stroke-width="0.9" />
<text x="269.70" y="174.20" font-size="5.6" fill="#3a3a3a" text-anchor="end" style="font-family:'Liberation Serif',serif" font-weight="normal" stroke="#3a3a3a" stroke-width="0.15" >1</text>
<line x1="270.30" y1="158.60" x2="273.00" y2="158.60" stroke="#333" stroke-width="0.9" />
<text x="269.70" y="160.50" font-size="5.6" fill="#3a3a3a" text-anchor="end" style="font-family:'Liberation Serif',serif" font-weight="normal" stroke="#3a3a3a" stroke-width="0.15" >1.20</text>
<line x1="280.00" y1="254.40" x2="280.00" y2="257.10" stroke="#333" stroke-width="0.9" />
<text x="280.00" y="260.40" font-size="6.0" fill="#3a3a3a" text-anchor="middle" style="font-family:'Liberation Serif',serif" font-weight="normal" stroke="#3a3a3a" stroke-width="0.15" >0</text>
<line x1="293.04" y1="254.40" x2="293.04" y2="257.10" stroke="#333" stroke-width="0.9" />
<text x="293.04" y="260.40" font-size="6.0" fill="#3a3a3a" text-anchor="middle" style="font-family:'Liberation Serif',serif" font-weight="normal" stroke="#3a3a3a" stroke-width="0.15" >0.20</text>
<line x1="306.08" y1="254.40" x2="306.08" y2="257.10" stroke="#333" stroke-width="0.9" />
<text x="306.08" y="260.40" font-size="6.0" fill="#3a3a3a" text-anchor="middle" style="font-family:'Liberation Serif',serif" font-weight="normal" stroke="#3a3a3a" stroke-width="0.15" >0.40</text>
<line x1="319.12" y1="254.40" x2="319.12" y2="257.10" stroke="#333" stroke-width="0.9" />
<text x="319.12" y="260.40" font-size="6.0" fill="#3a3a3a" text-anchor="middle" style="font-family:'Liberation Serif',serif" font-weight="normal" stroke="#3a3a3a" stroke-width="0.15" >0.60</text>
<line x1="332.16" y1="254.40" x2="332.16" y2="257.10" stroke="#333" stroke-width="0.9" />
<text x="332.16" y="260.40" font-size="6.0" fill="#3a3a3a" text-anchor="middle" style="font-family:'Liberation Serif',serif" font-weight="normal" stroke="#3a3a3a" stroke-width="0.15" >0.80</text>
<line x1="345.20" y1="254.40" x2="345.20" y2="257.10" stroke="#333" stroke-width="0.9" />
<text x="345.20" y="260.40" font-size="6.0" fill="#3a3a3a" text-anchor="middle" style="font-family:'Liberation Serif',serif" font-weight="normal" stroke="#3a3a3a" stroke-width="0.15" >1</text>
<text x="276.35" y="251.60" font-size="11.6" fill="#b02434" text-anchor="start" style="font-family:'Liberation Sans',sans-serif" font-weight="normal" stroke="#b02434" stroke-width="0.3" >4</text>
<text x="282.80" y="251.60" font-size="11.6" fill="#b02434" text-anchor="start" style="font-family:'Liberation Sans',sans-serif" font-weight="normal" stroke="#b02434" stroke-width="0.3" >0</text>
<text x="310.57" y="251.60" font-size="11.6" fill="#55307a" text-anchor="start" style="font-family:'Liberation Sans',sans-serif" font-weight="normal" stroke="#55307a" stroke-width="0.3" >0</text>
<text x="341.17" y="251.60" font-size="11.6" fill="#3030a6" text-anchor="start" style="font-family:'Liberation Sans',sans-serif" font-weight="normal" stroke="#3030a6" stroke-width="0.3" >0</text>
<text x="313.40" y="151.25" font-size="7.2749999999999995" fill="#363636" text-anchor="middle" style="font-family:'Liberation Serif',serif" font-weight="normal" stroke="#363636" stroke-width="0.05" textLength="81.00" lengthAdjust="spacingAndGlyphs" >Hapmap25303-BTA-150600</text>
<text x="249.70" y="150.80" font-size="6.8" fill="#111" text-anchor="start" style="font-family:'Liberation Sans',sans-serif" font-weight="bold" stroke="#111" stroke-width="0.1" >F</text>
<text x="311.70" y="275.00" font-size="8.3" fill="#2a2a2a" text-anchor="middle" style="font-family:'Liberation Serif',serif" font-weight="normal" stroke="#2a2a2a" stroke-width="0.12" textLength="32.80" lengthAdjust="spacingAndGlyphs" >Norm Theta</text>
<text x="0" y="0" font-size="7.1" fill="#2a2a2a" stroke="#2a2a2a" stroke-width="0.15" text-anchor="middle" style="font-family:'Liberation Serif',serif" transform="translate(255.00,200.50) rotate(-90)" textLength="23.8" lengthAdjust="spacingAndGlyphs">Norm R</text>
<rect x="370.25" y="41" width="28.44999999999999" height="49.5" fill="#fff" stroke="#6a6a6a" stroke-width="0.9"/>
<rect x="371.85" y="43.00" width="6" height="5.2" fill="#e00000" stroke="#333" stroke-width="0.5"/>
<text x="380.15" y="47.15" font-size="4.9" fill="#444" text-anchor="start" style="font-family:'Liberation Sans',sans-serif" font-weight="normal" stroke="#444" stroke-width="0.12" >AA</text>
<rect x="371.85" y="55.40" width="6" height="5.2" fill="#6a0a80" stroke="#333" stroke-width="0.5"/>
<text x="380.15" y="59.55" font-size="4.9" fill="#444" text-anchor="start" style="font-family:'Liberation Sans',sans-serif" font-weight="normal" stroke="#444" stroke-width="0.12" >AB</text>
<rect x="371.85" y="68.05" width="6" height="5.2" fill="#0000e0" stroke="#333" stroke-width="0.5"/>
<text x="380.15" y="72.20" font-size="4.9" fill="#444" text-anchor="start" style="font-family:'Liberation Sans',sans-serif" font-weight="normal" stroke="#444" stroke-width="0.12" >BB</text>
<rect x="371.85" y="80.45" width="6" height="5.2" fill="#000" stroke="#333" stroke-width="0.5"/>
<text x="380.15" y="84.60" font-size="4.9" fill="#444" text-anchor="start" style="font-family:'Liberation Sans',sans-serif" font-weight="normal" stroke="#444" stroke-width="0.12" >No Call</text>
<rect x="370.25" y="184.5" width="28.350000000000023" height="52.900000000000006" fill="#fff" stroke="#6a6a6a" stroke-width="0.9"/>
<rect x="371.85" y="187.10" width="6.3" height="5.8" fill="#e00000" stroke="#333" stroke-width="0.5"/>
<text x="379.85" y="191.55" font-size="4.9" fill="#444" text-anchor="start" style="font-family:'Liberation Sans',sans-serif" font-weight="normal" stroke="#444" stroke-width="0.12" >AA</text>
<rect x="371.85" y="200.50" width="6.3" height="5.8" fill="#6a0a80" stroke="#333" stroke-width="0.5"/>
<text x="379.85" y="204.95" font-size="4.9" fill="#444" text-anchor="start" style="font-family:'Liberation Sans',sans-serif" font-weight="normal" stroke="#444" stroke-width="0.12" >AB</text>
<rect x="371.85" y="213.80" width="6.3" height="5.8" fill="#0000e0" stroke="#333" stroke-width="0.5"/>
<text x="379.85" y="218.25" font-size="4.9" fill="#444" text-anchor="start" style="font-family:'Liberation Sans',sans-serif" font-weight="normal" stroke="#444" stroke-width="0.12" >BB</text>
<rect x="371.85" y="226.70" width="6.3" height="5.8" fill="#000" stroke="#333" stroke-width="0.5"/>
<text x="379.85" y="231.15" font-size="4.9" fill="#444" text-anchor="start" style="font-family:'Liberation Sans',sans-serif" font-weight="normal" stroke="#444" stroke-width="0.12" >NoCall</text>
</svg></body></html>
